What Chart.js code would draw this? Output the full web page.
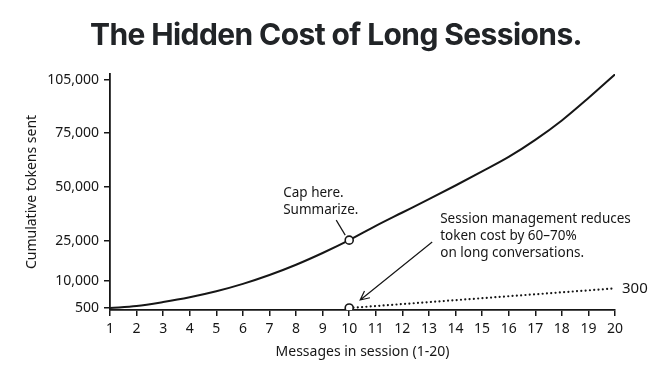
<!DOCTYPE html>
<html>
<head>
<meta charset="utf-8">
<title>The Hidden Cost of Long Sessions</title>
<script src="https://cdn.jsdelivr.net/npm/chart.js@4.4.1/dist/chart.umd.min.js"></script>
<style>
  html, body { margin: 0; padding: 0; background: #fff; }
  #wrap { width: 672px; height: 375px; position: relative; }
</style>
</head>
<body>
<div id="wrap"><canvas id="costChart"></canvas></div>
<script>
// values
const messages = [1, 2, 3, 4, 5, 6, 7, 8, 9, 10, 11, 12, 13, 14, 15, 16, 17, 18, 19, 20];
const fullTokens = [500, 1200, 2600, 4300, 6400, 9000, 12250, 16100, 20500, 25400,
  32000, 38200, 44400, 50700, 57200, 63900, 71800, 82100, 94800, 108200];
const managedMessages = [10, 20];
const managedTokens = [500, 7400];
const yTicks = [500, 10000, 25000, 50000, 75000, 105000];
const yMax = 108400;

const title = 'The Hidden Cost of Long Sessions.';
const ink = '#161616';
const hand = '"Noto Sans", "Open Sans", sans-serif';

// the y axis in the picture is not linear, the tick marks sit where they were drawn
// (px above the x axis, the axis being 236px tall)
const ySpots = [0, 2, 29, 69, 123, 177, 230, 236];
const yStops = [0, ...yTicks, yMax];

class HandScale extends Chart.LinearScale {
  static id = 'hand';
  static defaults = Chart.LinearScale.defaults;

  buildTicks() {
    return yTicks.map(v => ({ value: v }));
  }

  getPixelForValue(value) {
    if (value === null || value === undefined || isNaN(value)) return NaN;
    let i = 1;
    while (i < yStops.length - 1 && value > yStops[i]) i++;
    const f = (value - yStops[i - 1]) / (yStops[i] - yStops[i - 1]);
    const spot = ySpots[i - 1] + f * (ySpots[i] - ySpots[i - 1]);
    return this.getPixelForDecimal(spot / ySpots[ySpots.length - 1]);
  }

  getValueForPixel(pixel) {
    const spot = this.getDecimalForPixel(pixel) * ySpots[ySpots.length - 1];
    let i = 1;
    while (i < ySpots.length - 1 && spot > ySpots[i]) i++;
    const f = (spot - ySpots[i - 1]) / (ySpots[i] - ySpots[i - 1]);
    return yStops[i - 1] + f * (yStops[i] - yStops[i - 1]);
  }
}
Chart.register(HandScale);

// title centred on the page, and callouts next to the two points at message 10
const notes = {
  id: 'notes',
  afterDatasetsDraw(chart) {
    const { ctx, scales: { x, y } } = chart;
    const cx = x.getPixelForValue(10);
    const cy = y.getPixelForValue(fullTokens[9]);
    const ly = y.getPixelForValue(managedTokens[0]);
    const ex = x.getPixelForValue(managedMessages[1]);
    const ey = y.getPixelForValue(managedTokens[1]);

    ctx.save();
    ctx.fillStyle = '#212427';
    ctx.textAlign = 'center';
    ctx.textBaseline = 'alphabetic';
    ctx.font = 'bold 30px Inter, sans-serif';
    ctx.letterSpacing = '-0.6px';
    ctx.fillText(title, chart.width / 2, 45);
    ctx.letterSpacing = '0px';

    ctx.fillStyle = ink;
    ctx.strokeStyle = ink;
    ctx.textAlign = 'left';
    ctx.textBaseline = 'middle';
    ctx.font = '13.5px ' + hand;
    ctx.fillText('Cap here.', cx - 66, cy - 47);
    ctx.fillText('Summarize.', cx - 66, cy - 30);

    ctx.fillText('Session management reduces', cx + 91, ly - 89);
    ctx.fillText('token cost by 60–70%', cx + 91, ly - 72);
    ctx.fillText('on long conversations.', cx + 91, ly - 55);

    ctx.font = '15px ' + hand;
    ctx.fillText('300', ex + 7, ey);

    // leader to the cap point
    ctx.lineWidth = 1.2;
    ctx.beginPath();
    ctx.moveTo(cx - 13, cy - 20);
    ctx.lineTo(cx - 4, cy - 5);
    ctx.stroke();

    // arrow to the managed point
    const x0 = cx + 83, y0 = ly - 66, x1 = cx + 11, y1 = ly - 8;
    const a = Math.atan2(y1 - y0, x1 - x0);
    ctx.beginPath();
    ctx.moveTo(x0, y0);
    ctx.lineTo(x1, y1);
    ctx.moveTo(x1 - 10 * Math.cos(a - 0.45), y1 - 10 * Math.sin(a - 0.45));
    ctx.lineTo(x1, y1);
    ctx.lineTo(x1 - 10 * Math.cos(a + 0.45), y1 - 10 * Math.sin(a + 0.45));
    ctx.stroke();
    ctx.restore();
  }
};

const ctx = document.getElementById('costChart').getContext('2d');
const costChart = new Chart(ctx, {
  type: 'line',
  data: {
    datasets: [{
      label: 'Full session',
      data: messages.map((m, i) => ({ x: m, y: fullTokens[i] })),
      borderColor: ink,
      borderWidth: 2,
      cubicInterpolationMode: 'monotone',
      pointRadius: c => c.dataIndex === 9 ? 4 : 0,
      pointBackgroundColor: '#fff',
      pointBorderColor: ink,
      pointBorderWidth: 1.6
    }, {
      label: 'Managed session',
      data: managedMessages.map((m, i) => ({ x: m, y: managedTokens[i] })),
      borderColor: ink,
      borderWidth: 2.2,
      borderDash: [0.01, 4.3],
      borderCapStyle: 'round',
      pointRadius: c => c.dataIndex === 0 ? 4 : 0,
      pointBackgroundColor: '#fff',
      pointBorderColor: ink,
      pointBorderWidth: 1.6
    }]
  },
  options: {
    responsive: true,
    maintainAspectRatio: false,
    animation: false,
    layout: { padding: { left: 0, right: 57, top: 74, bottom: 0 } },
    plugins: {
      legend: { display: false },
      tooltip: { enabled: false }
    },
    scales: {
      x: {
        type: 'linear',
        min: 1,
        max: 20,
        afterFit: s => { s.height = 65; },
        ticks: {
          stepSize: 1,
          color: ink,
          padding: 5,
          font: { family: hand, size: 14 }
        },
        grid: { drawOnChartArea: false, color: ink, lineWidth: 1.5, tickLength: 6 },
        border: { color: ink, width: 1.8 },
        title: {
          display: true,
          text: 'Messages in session (1-20)',
          color: ink,
          font: { family: hand, size: 14 },
          padding: { top: 0, bottom: 15 }
        }
      },
      y: {
        type: 'hand',
        min: 0,
        max: yMax,
        afterFit: s => { s.width = 110; },
        ticks: {
          color: ink,
          padding: 5,
          font: { family: hand, size: 14 },
          callback: v => v.toLocaleString('en-US')
        },
        grid: { drawOnChartArea: false, color: ink, lineWidth: 1.5, tickLength: 6 },
        border: { color: ink, width: 1.8 },
        title: {
          display: true,
          text: 'Cumulative tokens sent',
          color: ink,
          font: { family: hand, size: 14 },
          padding: { top: 24, bottom: 0 }
        }
      }
    }
  },
  plugins: [notes]
});
</script>
</body>
</html>
